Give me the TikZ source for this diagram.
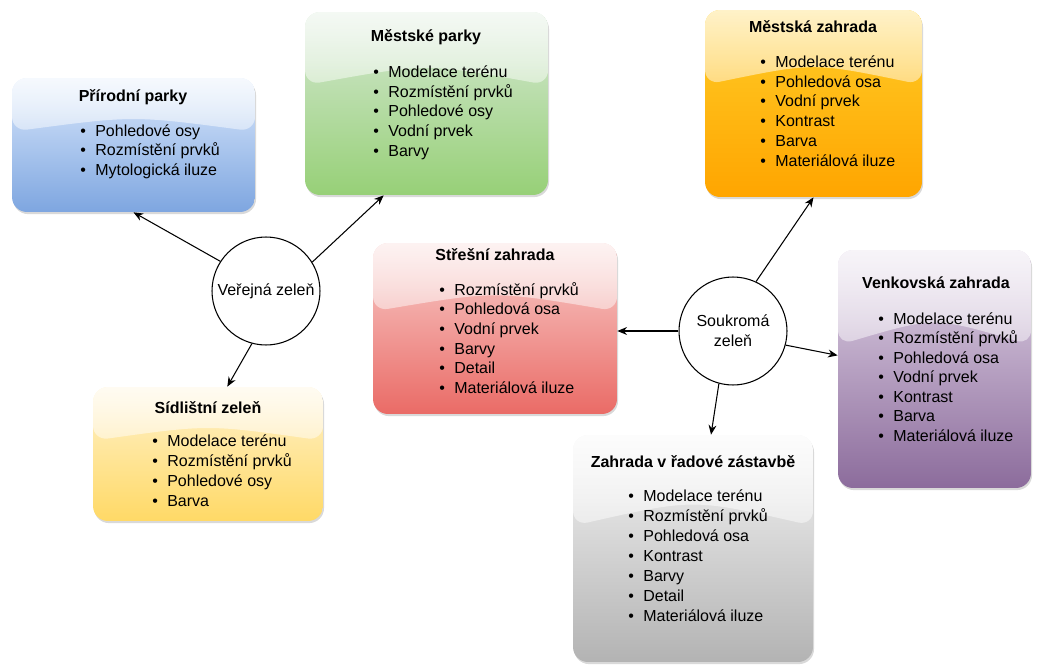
\documentclass[tikz,border=0pt]{standalone}
\usepackage{fontspec}
\setmainfont{Liberation Sans}
\usetikzlibrary{arrows.meta,shadows,fadings,calc}
\definecolor{modra1}{HTML}{DAE8FC}
\definecolor{modra2}{HTML}{7EA6E0}
\definecolor{zelena1}{HTML}{D5E8D4}
\definecolor{zelena2}{HTML}{97D077}
\definecolor{oranz1}{HTML}{FFCD28}
\definecolor{oranz2}{HTML}{FFA500}
\definecolor{cervena1}{HTML}{F8CECC}
\definecolor{cervena2}{HTML}{EA6B66}
\definecolor{fial1}{HTML}{E1D5E7}
\definecolor{fial2}{HTML}{8C6C9C}
\definecolor{seda1}{HTML}{F5F5F5}
\definecolor{seda2}{HTML}{B3B3B3}
\definecolor{zluta1}{HTML}{FFF2CC}
\definecolor{zluta2}{HTML}{FFD966}
\newcommand{\bod}{\makebox[0.3cm][l]{•}}
\tikzset{
  pismo/.style={font=\fontsize{9.1}{11.2}\selectfont},
  zbox/.style 2 args={draw=none, inner sep=0pt, rounded corners=0.3cm,
    top color=#1, bottom color=#2,
    drop shadow={shadow xshift=0.6pt, shadow yshift=-1.2pt, opacity=0.3},
    path picture={\fill[white, fill opacity=0.75, path fading=south]
      (path picture bounding box.north west)
      -- ($(path picture bounding box.north west)!0.4!(path picture bounding box.south west)$)
      .. controls ($(path picture bounding box.north)!0.28!(path picture bounding box.south)$)
      .. ($(path picture bounding box.north east)!0.4!(path picture bounding box.south east)$)
      -- (path picture bounding box.north east) -- cycle;}},
  nadpis/.style={pismo, font=\fontsize{9.1}{11.2}\selectfont\bfseries, inner sep=0pt},
  polozka/.style={pismo, anchor=west, inner sep=0pt, text height=0.72em, text depth=0.22em},
  kruh/.style={pismo, circle, draw, line width=0.6pt, fill=white, minimum size=2.16cm,
    inner sep=0pt, align=center},
  sipka/.style={line width=0.6pt, -{Stealth[length=5.5pt,width=4.5pt]}}
}
\begin{document}
\begin{tikzpicture}[x=0.02cm, y=-0.02cm]
\useasboundingbox (0,0) rectangle (1038,666);

\node[zbox={modra1}{modra2}, minimum width=4.86cm, minimum height=2.68cm] (prirodni) at (133.5,145) {};
\node[nadpis] (prirodni-t) at (133,97) {Přírodní parky};
\foreach \t [count=\i] in {Pohledové osy, Rozmístění prvků, Mytologická iluze}
  \node[polozka] (prirodni-\i) at (80,{132+(\i-1)*19.5}) {\bod\t};

\node[zbox={zelena1}{zelena2}, minimum width=4.86cm, minimum height=3.66cm] (mestske) at (426.5,103.5) {};
\node[nadpis] (mestske-t) at (426,37) {Městské parky};
\foreach \t [count=\i] in {Modelace terénu, Rozmístění prvků, Pohledové osy, Vodní prvek, Barvy}
  \node[polozka] (mestske-\i) at (373,{73+(\i-1)*19.7}) {\bod\t};

\node[zbox={oranz1}{oranz2}, minimum width=4.34cm, minimum height=3.74cm] (mestska) at (813.5,103.5) {};
\node[nadpis] (mestska-t) at (813,27) {Městská zahrada};
\foreach \t [count=\i] in {Modelace terénu, Pohledová osa, Vodní prvek, Kontrast, Barva, Materiálová iluze}
  \node[polozka] (mestska-\i) at (760,{63+(\i-1)*19.8}) {\bod\t};

\node[zbox={cervena1}{cervena2}, minimum width=4.88cm, minimum height=3.42cm] (strecha) at (495,328.5) {};
\node[nadpis] (strecha-t) at (495,255) {Střešní zahrada};
\foreach \t [count=\i] in {Rozmístění prvků, Pohledová osa, Vodní prvek, Barvy, Detail, Materiálová iluze}
  \node[polozka] (strecha-\i) at (439,{291+(\i-1)*19.6}) {\bod\t};

\node[zbox={fial1}{fial2}, minimum width=3.86cm, minimum height=4.76cm] (venkovska) at (934.5,369) {};
\node[nadpis] (venkovska-t) at (936,283) {Venkovská zahrada};
\foreach \t [count=\i] in {Modelace terénu, Rozmístění prvků, Pohledová osa, Vodní prvek, Kontrast, Barva, Materiálová iluze}
  \node[polozka] (venkovska-\i) at (878,{320+(\i-1)*19.5}) {\bod\t};

\node[zbox={seda1}{seda2}, minimum width=4.8cm, minimum height=4.54cm] (rad) at (693,548.5) {};
\node[nadpis] (rad-t) at (693,462) {Zahrada v řadové zástavbě};
\foreach \t [count=\i] in {Modelace terénu, Rozmístění prvků, Pohledová osa, Kontrast, Barvy, Detail, Materiálová iluze}
  \node[polozka] (rad-\i) at (628,{497+(\i-1)*20}) {\bod\t};

\node[zbox={zluta1}{zluta2}, minimum width=4.6cm, minimum height=2.68cm] (sidliste) at (208,454) {};
\node[nadpis] (sidliste-t) at (208,408) {Sídlištní zeleň};
\foreach \t [count=\i] in {Modelace terénu, Rozmístění prvků, Pohledové osy, Barva}
  \node[polozka] (sidliste-\i) at (152,{442+(\i-1)*20}) {\bod\t};

\node[kruh] (verejna) at (266,291) {Veřejná zeleň};
\node[kruh] (soukroma) at (733,331) {Soukromá\\zeleň};

\draw[sipka] (verejna.147) -- (prirodni.south);
\draw[sipka] (verejna.32) -- (mestske.245);
\draw[sipka] (verejna.255) -- (sidliste.74);
\draw[sipka] (soukroma.65) -- (mestska.south);
\draw[sipka] (soukroma.west) -- (soukroma.west -| strecha.east);
\draw[sipka] (soukroma.-15) -- (venkovska.172);
\draw[sipka] (soukroma.255) -- (rad.81);
\end{tikzpicture}
\end{document}
